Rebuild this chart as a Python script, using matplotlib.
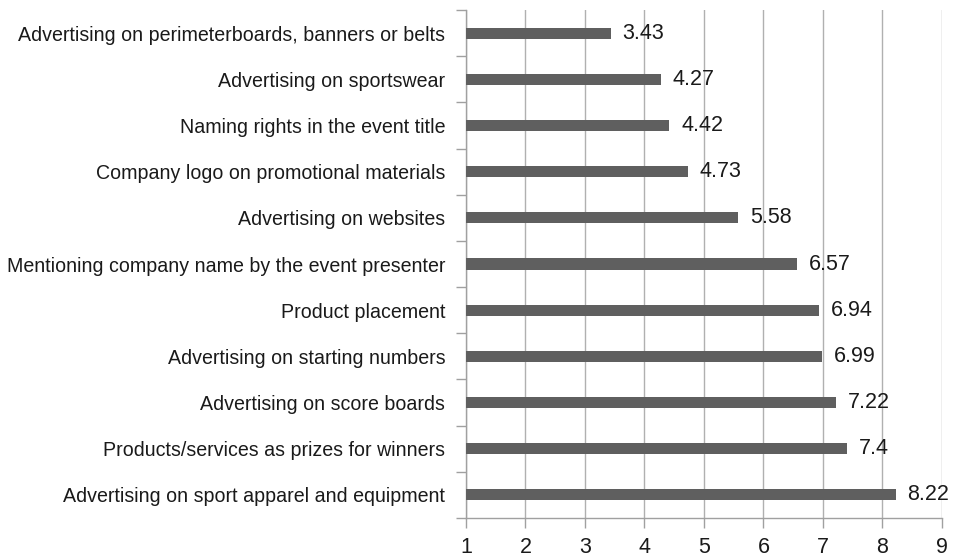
import matplotlib
matplotlib.use("Agg")
import matplotlib.pyplot as plt
import numpy as np

categories = [
    "Advertising on perimeterboards, banners or belts",
    "Advertising on sportswear",
    "Naming rights in the event title",
    "Company logo on promotional materials",
    "Advertising on websites",
    "Mentioning company name by the event presenter",
    "Product placement",
    "Advertising on starting numbers",
    "Advertising on score boards",
    "Products/services as prizes for winners",
    "Advertising on sport apparel and equipment",
]
values = [3.43, 4.27, 4.42, 4.73, 5.58, 6.57, 6.94, 6.99, 7.22, 7.4, 8.22]
value_labels = ["3.43", "4.27", "4.42", "4.73", "5.58", "6.57", "6.94", "6.99", "7.22", "7.4", "8.22"]
xticks = [1, 2, 3, 4, 5, 6, 7, 8, 9]

plt.rcParams['font.family'] = ['Liberation Sans', 'DejaVu Sans']

fig = plt.figure(figsize=(9.6, 5.59), dpi=100)
ax = fig.add_axes([0.4854, 0.0733, 0.4958, 0.9088])

n = len(categories)
y = np.arange(n)
ax.barh(y, np.array(values) - 1, left=1, height=0.24, color='#5f5f5f', zorder=3)
for yi, v, lab in zip(y, values, value_labels):
    ax.text(v + 0.2, yi, lab, va='center', ha='left', fontsize=15.5, color='#1a1a1a', zorder=4)

ax.set_xlim(1, 9)
ax.set_ylim(n - 0.5, -0.5)
ax.set_xticks(xticks)
ax.set_xticklabels([str(t) for t in xticks], fontsize=15.5, color='#1a1a1a')
ax.set_yticks(y)
ax.set_yticklabels(categories, fontsize=14.1, color='#1a1a1a')
ax.set_yticks(np.arange(-0.5, n, 1), minor=True)
ax.tick_params(axis='y', which='major', length=0, pad=15)
ax.tick_params(axis='y', which='minor', length=7, color='#a0a0a0', width=1)
ax.tick_params(axis='x', which='major', length=7, color='#a0a0a0', width=1, pad=7)

ax.grid(axis='x', color='#b0b0b0', linewidth=1, zorder=0)
for s in ['top', 'right']:
    ax.spines[s].set_visible(False)
for s in ['left', 'bottom']:
    ax.spines[s].set_color('#a0a0a0')
    ax.spines[s].set_linewidth(1)

fig.savefig("out.png", dpi=100)
